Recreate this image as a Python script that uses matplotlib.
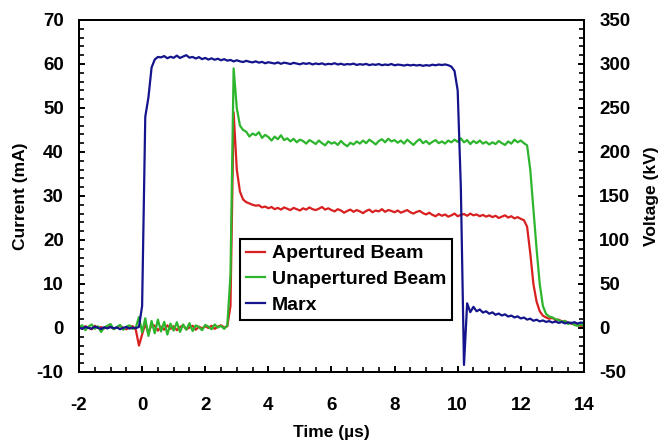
import numpy as np
import matplotlib
matplotlib.use("Agg")
import matplotlib.pyplot as plt
from matplotlib.ticker import MultipleLocator

plt.rcParams['font.family'] = ['Liberation Sans', 'DejaVu Sans']
plt.rcParams['font.weight'] = 'bold'
plt.rcParams['axes.unicode_minus'] = False

# time base (us), 0.1 us sampling
t = np.round(np.arange(-2.0, 14.05, 0.1), 1)

# apertured beam current (mA)
red_mA = [
    0.3, -0.2, 0.4, 0.1, -0.3, 0.5, 0.0, 0.2, -0.1, 0.4, 0.3, -0.2, 0.1, 0.5, 0.0, -0.3, 0.2, 0.4, -0.4,
    -4.0, -1.5, 1.0, -1.2, 0.8,
    0.5, -0.6, 0.3, -0.4, 0.6, -0.2, 0.4, -0.5, 0.2, 0.6, -0.3, 0.1, 0.5, -0.4, 0.3, -0.1, 0.4, 0.0,
    0.5, -0.2, 0.3, 0.6, 0.1, 0.4,
    5.0, 49.0, 36.0, 31.0, 29.2, 28.6, 28.3, 28.0, 27.8, 27.9, 27.4, 27.6, 27.2,
    27.5, 27.0, 27.3, 26.9, 27.4, 27.1, 26.8, 27.3, 27.0, 26.7,
    27.2, 26.9, 27.4, 27.0, 26.8, 27.1, 27.5, 26.9, 27.2, 26.8,
    26.5, 27.0, 26.7, 26.2, 26.6, 26.9, 26.4, 26.8, 26.5, 26.1,
    26.6, 26.9, 26.3, 26.7, 26.5, 27.0, 26.4, 26.8, 26.6, 26.3,
    26.7, 26.2, 26.5, 26.8, 26.3, 26.0, 26.4, 26.6, 26.1, 25.8,
    26.2, 25.7, 25.4, 25.9, 25.5, 25.8, 25.3, 25.6, 26.0, 25.4,
    25.7, 25.9, 25.5, 26.0, 25.6, 25.8, 25.4, 25.7, 25.3, 25.6,
    25.2, 25.5, 25.0, 25.3, 25.6, 25.1, 25.4, 24.9, 25.2, 24.8,
    24.5,
    23.0, 17.0, 10.0, 6.0, 3.8, 2.8, 2.4, 2.1, 2.3, 1.8, 1.9, 1.5, 1.6, 1.2, 1.0, 0.8, 0.6, 0.5, 0.3,
]

# unapertured beam current (mA)
green_mA = [
    0.2, 0.6, -0.5, 0.3, 0.8, -0.2, 0.4, -0.9, 0.1, 0.5, 0.9, -0.3, 0.2, 0.7, -0.4, 0.3, 0.6, -0.2, 0.1,
    2.5, -1.0, 2.2, -1.8, 1.6,
    -1.2, 1.9, -0.8, 1.4, -1.5, 1.0, -0.6, 1.3, -0.9, 0.8, -0.4, 1.1, -0.7, 0.6, 0.2, -0.5, 0.7, 0.3,
    -0.3, 0.8, 0.1, 0.5, -0.2, 0.6,
    12.0, 59.0, 50.0, 46.0, 45.0, 44.6, 43.5, 44.2, 43.8, 44.5, 43.2, 43.9, 43.4,
    42.6, 43.5, 42.9, 43.8, 42.7, 43.1, 42.4, 43.0, 42.2, 42.8,
    42.5, 41.9, 42.7, 42.3, 41.8, 42.6, 42.0, 41.5, 42.4, 41.9,
    42.2, 41.6, 42.5, 41.8, 41.3, 42.1, 41.7, 42.4, 41.9, 42.6,
    42.0, 42.8, 42.3, 41.7, 42.5, 42.9, 42.2, 43.0, 42.4, 42.7,
    42.1, 42.6, 41.9, 42.8, 42.2, 41.6, 42.4, 42.9, 42.0, 42.5,
    41.8, 42.3, 42.7, 42.0, 42.4, 41.9, 42.6, 42.2, 42.8, 42.3,
    43.1, 42.2, 42.7, 41.8, 42.5, 42.0, 42.6, 41.9, 42.3, 41.7,
    42.2, 41.8, 42.5, 42.0, 41.6, 42.4, 41.9, 42.8, 42.2, 42.6,
    42.0, 41.5,
    36.0, 27.0, 18.0, 10.0, 5.0, 3.2, 2.6, 2.4, 2.0, 1.8, 1.4, 1.6, 0.9, 1.2, 0.7, 0.5, 0.9, 0.4,
]

# Marx voltage (kV)
marx_kV = [
    0.5, -1.0, 1.2, 0.0, -0.8, 1.5, 0.3, -1.2, 0.8, -0.5, 1.0, -0.3, 0.6, -1.4, 0.2, 1.1, -0.7, 0.4, -0.2, 1.3,
    25.0, 240.0, 262.0, 296.0, 305.0, 308.0,
    307.5, 309.0, 306.5, 308.2, 307.0, 309.5, 306.8, 308.5, 310.0, 307.2,
    308.0, 306.2, 307.8, 305.5, 306.9, 305.0, 306.4, 304.8, 306.0, 304.2,
    305.5, 303.8, 304.6, 302.9, 304.2, 303.0, 302.2, 303.6, 302.5, 301.8,
    303.0, 301.5, 302.4, 300.8, 302.0, 301.2, 300.5, 301.8, 300.2, 301.5,
    300.8, 299.9, 301.3, 300.4, 299.6, 300.9, 300.1, 301.0, 299.5, 300.6,
    299.8, 300.7, 299.3, 300.2, 299.7, 300.9, 299.4, 300.3, 299.1, 299.9,
    299.5, 300.4, 298.9, 299.8, 299.2, 300.1, 298.7, 299.6, 299.0, 299.9,
    298.6, 299.4, 298.8, 300.0, 298.5, 299.3, 298.9, 298.2, 299.1, 298.4,
    299.0, 298.3, 298.9, 297.9, 298.7, 298.1, 299.2, 298.5, 299.4, 298.8,
    299.5, 298.6, 297.0,
    292.0, 270.0, 160.0, -42.0, 28.0, 18.0, 24.0, 19.0,
    21.0, 17.5, 19.0, 16.2, 17.8, 15.0, 16.4, 14.2, 15.5, 13.0,
    14.1, 12.0, 13.2, 10.8, 11.9, 9.5, 10.6, 8.2, 9.4, 7.5,
    8.6, 6.9, 7.8, 6.2, 7.4, 5.8, 6.9, 5.2, 6.4, 5.5,
    6.6, 5.0, 6.2, 5.6,
]

fig = plt.figure(figsize=(6.6, 4.44), dpi=100)
ax = fig.add_axes([0.1197, 0.1622, 0.765, 0.7928])
ax2 = ax.twinx()

l1, = ax.plot(t, red_mA, color='#d82020', lw=1.6, label='Apertured Beam')
l2, = ax.plot(t, green_mA, color='#2db52d', lw=1.6, label='Unapertured Beam')
l3, = ax2.plot(t, marx_kV, color='#14148c', lw=1.6, label='Marx')

ax.set_xlim(-2, 14)
ax.set_ylim(-10, 70)
ax2.set_ylim(-50, 350)

ax.xaxis.set_major_locator(MultipleLocator(2))
ax.xaxis.set_minor_locator(MultipleLocator(0.5))
ax.yaxis.set_major_locator(MultipleLocator(10))
ax.yaxis.set_minor_locator(MultipleLocator(2))
ax2.yaxis.set_major_locator(MultipleLocator(50))
ax2.yaxis.set_minor_locator(MultipleLocator(10))

for a in (ax, ax2):
    a.tick_params(which='major', direction='in', length=4, width=1.4, labelsize=13.5, pad=11)
    a.tick_params(which='minor', direction='in', length=3.5, width=1.2)
    for s in a.spines.values():
        s.set_linewidth(1.4)
ax.tick_params(axis='y', which='both', right=False)
ax.tick_params(axis='x', which='both', top=False)
ax.tick_params(axis='x', which='major', pad=18)

ax.set_xlabel('Time (\u00b5s)', fontsize=12.5, fontweight='bold', labelpad=8)
ax.set_ylabel('Current (mA)', fontsize=12.5, fontweight='bold', labelpad=6)
ax2.set_ylabel('Voltage (kV)', fontsize=12.5, fontweight='bold', labelpad=10)

leg = ax2.legend(handles=[l1, l2, l3], loc='lower left', bbox_to_anchor=(0.319, 0.148),
                 fontsize=14, frameon=True, fancybox=False, framealpha=1,
                 edgecolor='black', handlelength=1.0, handletextpad=0.35,
                 labelspacing=0.42, borderpad=0.3, borderaxespad=0)
leg.get_frame().set_linewidth(1.5)
for txt in leg.get_texts():
    txt.set_fontweight('bold')

fig.savefig('out.png', dpi=100)
